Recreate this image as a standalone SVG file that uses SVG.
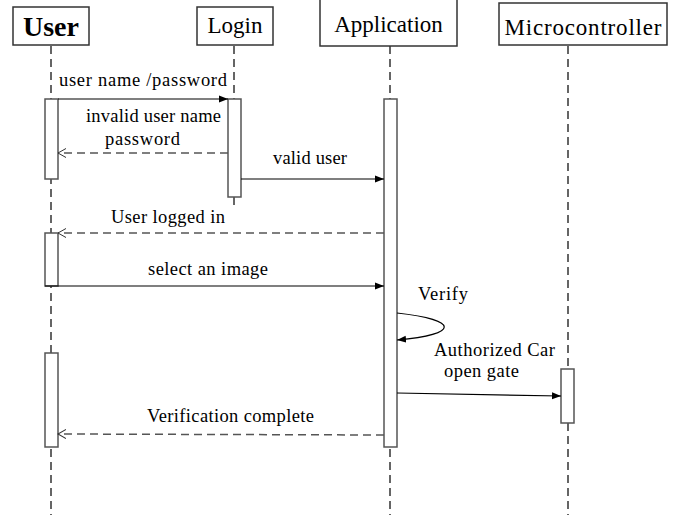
<svg xmlns="http://www.w3.org/2000/svg" width="678" height="515" viewBox="0 0 678 515" font-family="Liberation Serif">
<defs>
<marker id="solid" markerWidth="10" markerHeight="8" refX="9" refY="4" orient="auto" markerUnits="userSpaceOnUse">
<path d="M0,0.5 L9,4 L0,7.5 Z" fill="#000"/>
</marker>
<marker id="open" markerWidth="10" markerHeight="10" refX="8" refY="5" orient="auto" markerUnits="userSpaceOnUse">
<path d="M0,0.5 L8,5 L0,9.5" fill="none" stroke="#333" stroke-width="1"/>
</marker>
</defs>
<style>
.hdr{fill:#fff;stroke:#333;stroke-width:1.5}
.act{fill:#fff;stroke:#555;stroke-width:1.5}
.life{stroke:#333;stroke-width:1.5;stroke-dasharray:8 5;fill:none}
.msg{stroke:#000;stroke-width:1.2;fill:none}
.ret{stroke:#555;stroke-width:1.5;stroke-dasharray:8 5;fill:none}
</style>
<rect width="678" height="515" fill="#fff"/>
<g id="lifelines">
<line class="life" x1="51" y1="46" x2="51" y2="515"/>
<line class="life" x1="234" y1="46" x2="234" y2="99"/>
<line class="life" x1="234" y1="197" x2="234" y2="208"/>
<line class="life" x1="390" y1="46" x2="390" y2="515"/>
<line class="life" x1="568" y1="46" x2="568" y2="515"/>
</g>
<g id="user">
<rect class="hdr" x="13" y="7" width="76" height="38"/>
<text x="51" y="36" font-family="Liberation Serif" font-size="28" font-weight="bold" text-anchor="middle">User</text>
<rect class="act" x="45" y="99" width="13" height="80"/>
<rect class="act" x="45" y="233" width="13" height="53"/>
<rect class="act" x="45" y="353" width="13" height="94"/>
</g>
<g id="login">
<rect class="hdr" x="197" y="7" width="76" height="38"/>
<text x="235" y="33" font-family="Liberation Serif" font-size="23" text-anchor="middle">Login</text>
<rect class="act" x="228" y="99" width="13" height="98"/>
</g>
<g id="application">
<rect class="hdr" x="320" y="-2" width="137" height="48"/>
<text x="388.5" y="32" font-family="Liberation Serif" font-size="23" text-anchor="middle">Application</text>
<rect class="act" x="384" y="99" width="13" height="348"/>
</g>
<g id="microcontroller">
<rect class="hdr" x="499" y="3" width="168" height="42"/>
<text x="583" y="35" font-family="Liberation Serif" font-size="23" text-anchor="middle" textLength="157">Microcontroller</text>
<rect class="act" x="561" y="369" width="13" height="54"/>
</g>
<g id="connectors" font-family="Liberation Serif" font-size="18.5">
<line class="msg" x1="58" y1="99" x2="228" y2="99" marker-end="url(#solid)"/>
<text x="59" y="86" textLength="168">user name /password</text>
<line class="ret" x1="228" y1="153" x2="58" y2="153" marker-end="url(#open)"/>
<text x="86" y="122" textLength="135">invalid user name</text>
<text x="105" y="145" textLength="75">password</text>
<line class="msg" x1="241" y1="179" x2="384" y2="179" marker-end="url(#solid)"/>
<text x="273" y="164" textLength="74">valid user</text>
<line class="ret" x1="384" y1="233" x2="58" y2="233" marker-end="url(#open)"/>
<text x="111" y="223" textLength="114">User logged in</text>
<line class="msg" x1="45" y1="286" x2="384" y2="286" marker-end="url(#solid)"/>
<text x="148" y="275" textLength="120">select an image</text>
<path class="msg" d="M397,313 C460,320 460,334 397,340" marker-end="url(#solid)"/>
<text x="418" y="300" textLength="50">Verify</text>
<line class="msg" x1="397" y1="393" x2="561" y2="396" marker-end="url(#solid)"/>
<text x="434" y="356" textLength="121">Authorized Car</text>
<text x="444" y="377" textLength="75">open gate</text>
<line class="ret" x1="384" y1="435" x2="58" y2="434" marker-end="url(#open)"/>
<text x="147" y="422" textLength="167">Verification complete</text>
</g>
</svg>
